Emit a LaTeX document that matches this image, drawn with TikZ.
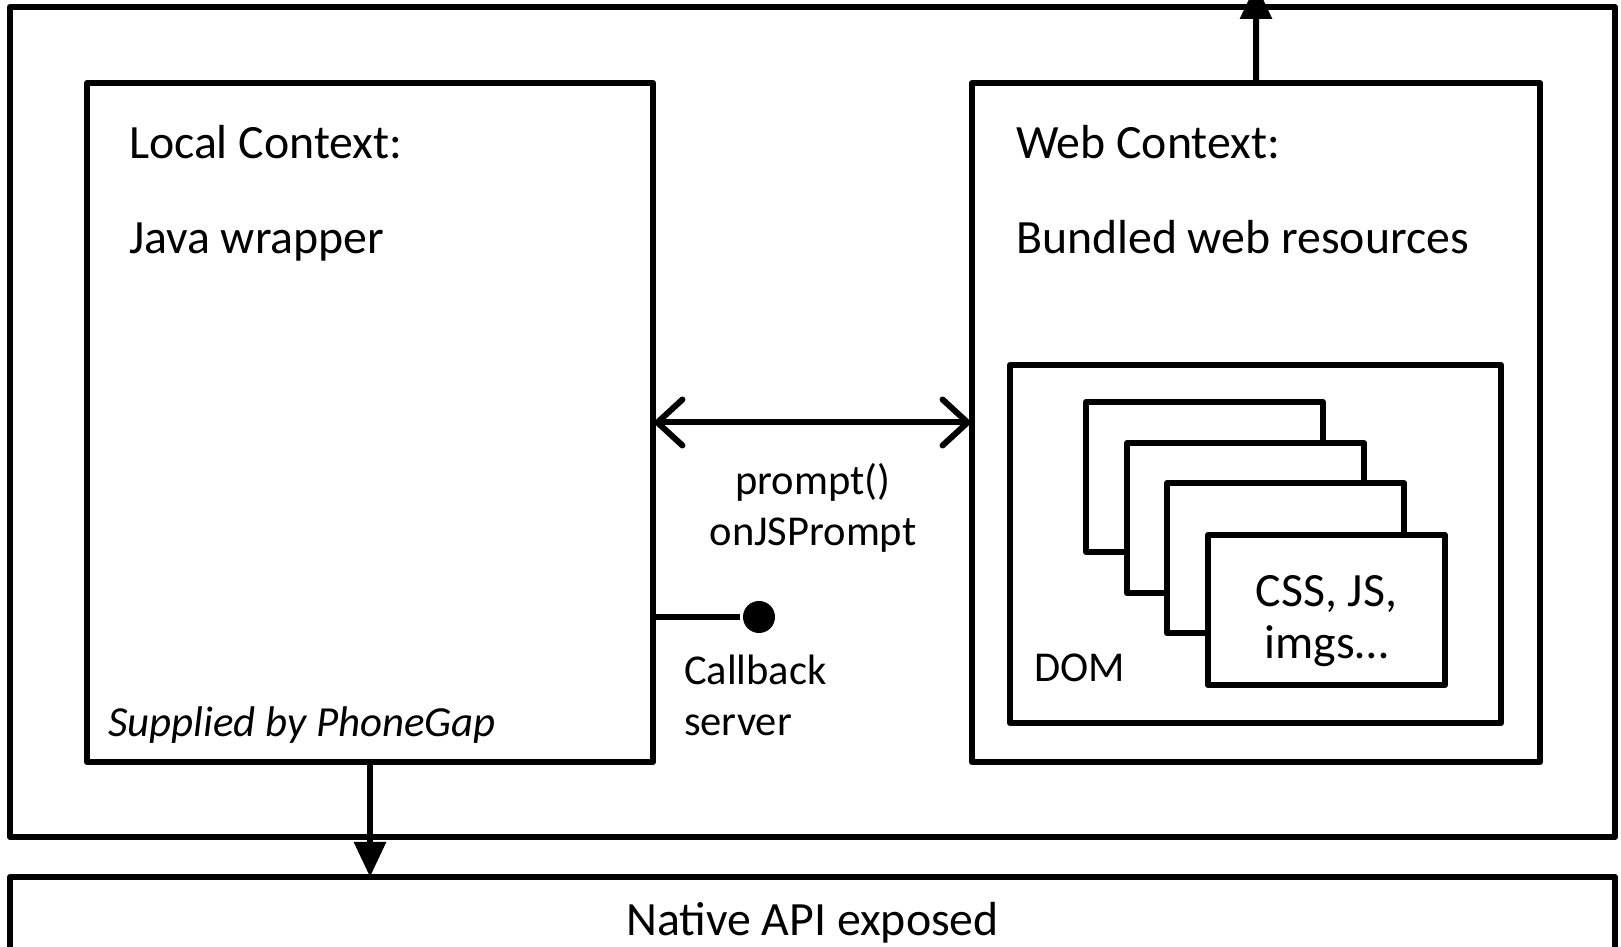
\documentclass[tikz,border=0pt]{standalone}
\usepackage{fontspec}
\setmainfont{Carlito}
\usetikzlibrary{arrows.meta}

\begin{document}
\begin{tikzpicture}[x=0.1mm, y=-0.1mm, line width=0.6mm, line join=round,
  boite/.style={draw, inner sep=0pt, outer sep=0pt, anchor=north west, fill=white},
  texte/.style={inner sep=0pt, anchor=base west, align=left},
  petit/.style={font=\fontsize{12.1}{14.5}\selectfont},
  every node/.style={font=\fontsize{13.6}{15}\selectfont}]
 \useasboundingbox (0,0) rectangle (1621,947);
 \clip (0,0) rectangle (1621,947);

	% Cadres
 \node[boite, minimum width=160.5mm, minimum height=83mm] (app) at (10,7) {};
 \node[boite, minimum width=160.5mm, minimum height=13mm] (nat) at (10,877) {};
 \node[boite, minimum width=56.6mm, minimum height=67.9mm] (loc) at (87,83) {};
 \node[boite, minimum width=56.8mm, minimum height=67.9mm] (web) at (972,83) {};
 \node[boite, minimum width=49.1mm, minimum height=35.8mm] (dom) at (1010,365) {};

	% Pile de ressources
 \node[boite, minimum width=23.7mm, minimum height=15mm] (r1) at (1086,402) {};
 \node[boite, minimum width=23.7mm, minimum height=15mm] (r2) at (1127,443) {};
 \node[boite, minimum width=23.7mm, minimum height=15mm] (r3) at (1167,483) {};
 \node[boite, minimum width=23.7mm, minimum height=15mm] (r4) at (1208,535) {};

	% Textes
 \node[texte] (tloc) at (126,159) {Local Context:};
 \node[texte] (tjava) at (126,254) {Java wrapper};
 \node[texte] (tweb) at (1013,159) {Web Context:};
 \node[texte] (tbund) at (1013,254) {Bundled web resources};
 \node[texte, font=\fontsize{12.2}{15}\selectfont\itshape] (tpg) at (105,737) {Supplied by PhoneGap};
 \node[texte, petit] (tdom) at (1031,682) {DOM};
 \node[inner sep=0pt, anchor=north, align=center] (tres) at (r4.center |- 0,572) {CSS, JS,\\imgs…};
 \node[inner sep=0pt, anchor=base, align=center] (tnat) at (nat.north |- 0,935) {Native API exposed};
 \node[petit, inner sep=0pt, anchor=north, align=center] (tpr) at (813,460) {prompt()\\onJSPrompt};
 \node[petit, inner sep=0pt, anchor=north west, align=left] (tcb) at (681,652) {Callback\\server};

	% Liaisons
 \node[circle, fill, inner sep=0pt, minimum size=3.2mm] (cb) at (759,617) {};
 \coordinate (haut) at (1256,-16);
 \draw[{Straight Barb[length=2.5mm, width=4.6mm, line cap=round]}-{Straight Barb[length=2.5mm, width=4.6mm, line cap=round]}] (loc) -- (web);
 \draw (loc.east |- cb) -- (cb);
 \draw[-{Triangle[length=3.5mm, width=3.1mm]}] (loc.south) -- (loc.south |- nat.north);
 \draw[-{Triangle[length=3.5mm, width=3.1mm]}] (web.north) -- (haut);

\end{tikzpicture}
\end{document}
